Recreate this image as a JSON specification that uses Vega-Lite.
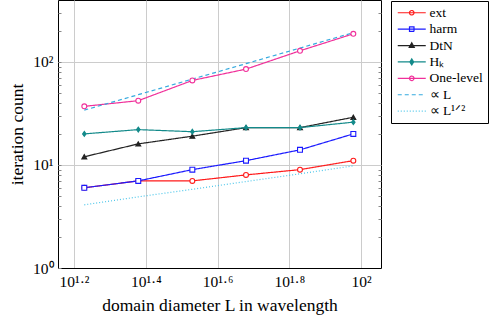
{
  "$schema": "https://vega.github.io/schema/vega-lite/v6.json",
  "width": 323,
  "height": 268,
  "autosize": "none",
  "padding": {"left": 58, "top": 0, "right": 108, "bottom": 52},
  "background": "white",
  "config": {
    "view": {"stroke": "black", "strokeWidth": 1},
    "font": "Liberation Serif",
    "axis": {
      "labelFont": "Liberation Serif",
      "titleFont": "Liberation Serif",
      "labelFontSize": 15.5,
      "titleFontSize": 17.5,
      "titleFontWeight": "normal",
      "labelColor": "black",
      "titleColor": "black",
      "domainColor": "black",
      "gridColor": "#cccccc",
      "gridWidth": 1,
      "tickColor": "#888888"
    }
  },
  "data": {
    "values": [
      {"series": "ext", "L": 16.93, "count": 6},
      {"series": "ext", "L": 23.94, "count": 7},
      {"series": "ext", "L": 33.87, "count": 7},
      {"series": "ext", "L": 47.8, "count": 8},
      {"series": "ext", "L": 67.6, "count": 9},
      {"series": "ext", "L": 95.2, "count": 11},
      {"series": "harm", "L": 16.93, "count": 6},
      {"series": "harm", "L": 23.94, "count": 7},
      {"series": "harm", "L": 33.87, "count": 9},
      {"series": "harm", "L": 47.8, "count": 11},
      {"series": "harm", "L": 67.6, "count": 14},
      {"series": "harm", "L": 95.2, "count": 20},
      {"series": "DtN", "L": 16.93, "count": 12},
      {"series": "DtN", "L": 23.94, "count": 16},
      {"series": "DtN", "L": 33.87, "count": 19},
      {"series": "DtN", "L": 47.8, "count": 23},
      {"series": "DtN", "L": 67.6, "count": 23},
      {"series": "DtN", "L": 95.2, "count": 29},
      {"series": "Hk", "L": 16.93, "count": 20},
      {"series": "Hk", "L": 23.94, "count": 22},
      {"series": "Hk", "L": 33.87, "count": 21},
      {"series": "Hk", "L": 47.8, "count": 23},
      {"series": "Hk", "L": 67.6, "count": 23},
      {"series": "Hk", "L": 95.2, "count": 26},
      {"series": "One-level", "L": 16.93, "count": 37},
      {"series": "One-level", "L": 23.94, "count": 42},
      {"series": "One-level", "L": 33.87, "count": 66},
      {"series": "One-level", "L": 47.8, "count": 85},
      {"series": "One-level", "L": 67.6, "count": 128},
      {"series": "One-level", "L": 95.2, "count": 187},
      {"series": "propL", "L": 16.93, "count": 34},
      {"series": "propL", "L": 23.94, "count": 48},
      {"series": "propL", "L": 33.87, "count": 68},
      {"series": "propL", "L": 47.8, "count": 96},
      {"series": "propL", "L": 67.6, "count": 136},
      {"series": "propL", "L": 95.2, "count": 192},
      {"series": "propL12", "L": 16.93, "count": 4.1},
      {"series": "propL12", "L": 23.94, "count": 4.9},
      {"series": "propL12", "L": 33.87, "count": 5.8},
      {"series": "propL12", "L": 47.8, "count": 6.9},
      {"series": "propL12", "L": 67.6, "count": 8.2},
      {"series": "propL12", "L": 95.2, "count": 9.8}
    ]
  },
  "layer": [
    {
      "mark": {"type": "line", "strokeWidth": 1.2},
      "encoding": {
        "x": {
          "field": "L", "type": "quantitative",
          "scale": {"type": "log", "domain": [14.3, 113.7], "nice": false},
          "axis": {
            "values": [15.849, 25.119, 39.811, 63.096, 100],
            "labelExpr": "datum.value < 20 ? '10¹·²' : datum.value < 30 ? '10¹·⁴' : datum.value < 50 ? '10¹·⁶' : datum.value < 80 ? '10¹·⁸' : '10²'",
            "grid": true,
            "ticks": false,
            "labelPadding": 6,
            "labelOverlap": false,
            "title": "domain diameter L in wavelength",
            "titlePadding": 7
          }
        },
        "y": {
          "field": "count", "type": "quantitative",
          "scale": {"type": "log", "domain": [1, 398], "nice": false},
          "axis": {
            "orient": "left",
            "offset": -3,
            "domain": false,
            "values": [1, 2, 3, 4, 5, 6, 7, 8, 9, 10, 20, 30, 40, 50, 60, 70, 80, 90, 100, 200, 300],
            "labelExpr": "datum.value == 1 ? '10⁰' : datum.value == 10 ? '10¹' : datum.value == 100 ? '10²' : ''",
            "labelOverlap": false,
            "gridOpacity": {"condition": {"test": "datum.value == 1 || datum.value == 10 || datum.value == 100", "value": 1}, "value": 0},
            "tickSize": 3,
            "labelPadding": 5,
            "title": "iteration count",
            "titlePadding": 6
          }
        },
        "stroke": {
          "field": "series", "type": "nominal",
          "scale": {
            "domain": ["ext", "harm", "DtN", "Hk", "One-level", "propL", "propL12"],
            "range": ["#ff1a1a", "#1a1aff", "#222222", "#138a8a", "#f0309a", "#35aadf", "#4cc6ea"]
          },
          "legend": {
            "title": null,
            "orient": "none",
            "legendX": 333,
            "legendY": 1,
            "strokeColor": "black",
            "fillColor": "white",
            "padding": 5,
            "labelFont": "Liberation Serif",
            "labelFontSize": 13.5,
            "labelColor": "black",
            "symbolSize": 100,
            "symbolOffset": 9,
            "labelOffset": 11,
            "rowPadding": 1.4,
            "symbolStrokeWidth": 1.2,
            "labelExpr": "datum.value == 'Hk' ? 'Hₖ' : datum.value == 'propL' ? '∝ L' : datum.value == 'propL12' ? '∝ L¹ᐟ²' : datum.value == 'One-level' ? 'One-level ' : datum.value",
            "encode": {
              "symbols": {
                "update": {
                  "shape": {"signal": "datum.value == 'ext' || datum.value == 'One-level' ? 'M-2.8,0H2.8M0.45,0A0.45,0.45 0 1,1 -0.45,0A0.45,0.45 0 1,1 0.45,0' : datum.value == 'harm' ? 'M-2.8,0H2.8M-0.45,-0.45H0.45V0.45H-0.45Z' : datum.value == 'DtN' ? 'M-2.8,0H2.8M0,-0.55L0.5,0.35H-0.5Z' : datum.value == 'Hk' ? 'M-2.8,0H2.8M0,-0.6L0.38,0L0,0.6L-0.38,0Z' : 'M-2.8,0H2.8'"},
                  "fill": {"signal": "datum.value == 'DtN' ? '#222222' : datum.value == 'Hk' ? '#138a8a' : 'transparent'"},
                  "strokeDash": {"signal": "datum.value == 'propL' ? [4, 3] : datum.value == 'propL12' ? [1, 2] : [1, 0]"}
                }
              }
            }
          }
        },
        "strokeDash": {
          "field": "series", "type": "nominal",
          "scale": {
            "domain": ["ext", "harm", "DtN", "Hk", "One-level", "propL", "propL12"],
            "range": [[1, 0], [1, 0], [1, 0], [1, 0], [1, 0], [4, 3], [1, 2]]
          },
          "legend": null
        }
      }
    },
    {
      "transform": [{"filter": "datum.series != 'propL' && datum.series != 'propL12'"}],
      "mark": {"type": "point", "strokeWidth": 1.1, "opacity": 1, "size": 24},
      "encoding": {
        "x": {"field": "L", "type": "quantitative"},
        "y": {
          "field": "count", "type": "quantitative",
          "axis": {
            "orient": "right",
            "offset": -3,
            "values": [2, 3, 4, 5, 6, 7, 8, 9, 20, 30, 40, 50, 60, 70, 80, 90, 200, 300],
            "labels": false,
            "domain": false,
            "grid": false,
            "tickSize": 3,
            "title": null
          }
        },
        "stroke": {"field": "series", "type": "nominal"},
        "shape": {
          "field": "series", "type": "nominal",
          "scale": {
            "domain": ["ext", "harm", "DtN", "Hk", "One-level"],
            "range": ["circle", "square", "triangle-up", "M0,-1L0.7,0L0,1L-0.7,0Z", "circle"]
          },
          "legend": null
        },
        "fill": {
          "field": "series", "type": "nominal",
          "scale": {
            "domain": ["ext", "harm", "DtN", "Hk", "One-level"],
            "range": ["white", "white", "#222222", "#138a8a", "white"]
          },
          "legend": null
        }
      }
    }
  ],
  "resolve": {"axis": {"y": "independent"}}
}
